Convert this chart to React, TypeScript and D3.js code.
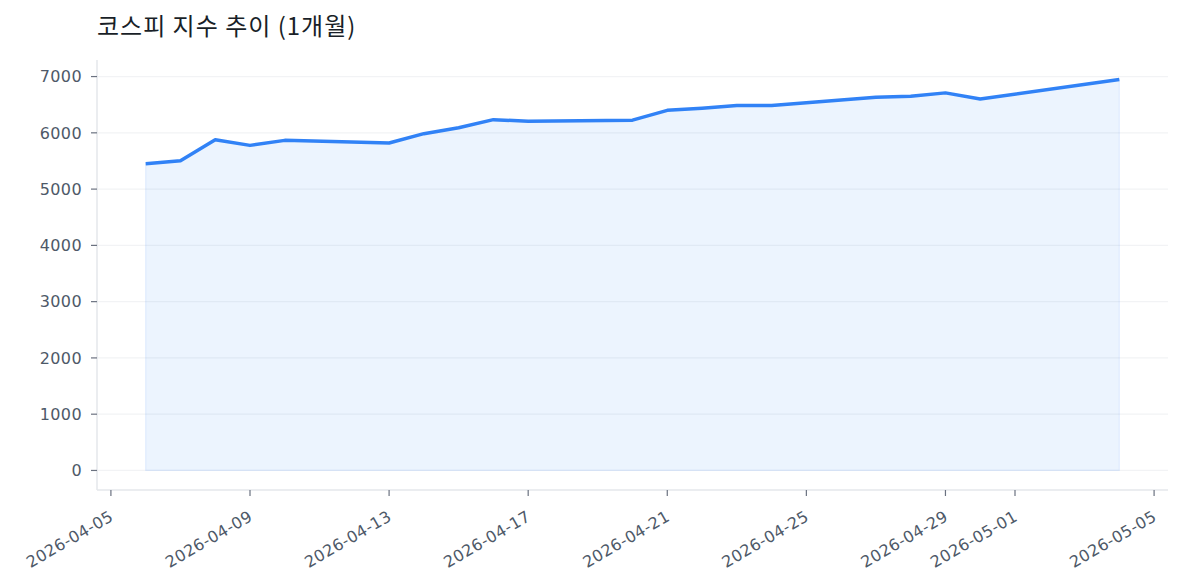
import React from "react";
import * as d3 from "d3";

const dates: string[] = [
  "2026-04-06", "2026-04-07", "2026-04-08", "2026-04-09", "2026-04-10",
  "2026-04-13", "2026-04-14", "2026-04-15", "2026-04-16", "2026-04-17",
  "2026-04-20", "2026-04-21", "2026-04-22", "2026-04-23", "2026-04-24",
  "2026-04-27", "2026-04-28", "2026-04-29", "2026-04-30", "2026-05-04",
];
const values: number[] = [
  5450, 5504, 5878, 5777, 5866,
  5819, 5985, 6090, 6234, 6205,
  6225, 6400, 6436, 6484, 6484,
  6632, 6650, 6710, 6603, 6947,
];
const xTickLabels: string[] = [
  "2026-04-05", "2026-04-09", "2026-04-13", "2026-04-17", "2026-04-21",
  "2026-04-25", "2026-04-29", "2026-05-01", "2026-05-05",
];
const yTicks: number[] = [0, 1000, 2000, 3000, 4000, 5000, 6000, 7000];
const title = "코스피 지수 추이 (1개월)";

const W = 1183;
const H = 585;
const TITLE_FONT = "'Noto Sans CJK KR', 'Noto Sans', sans-serif";
const TICK_FONT = "'DejaVu Sans', 'Noto Sans', sans-serif";

export default function App() {
  const parse = d3.utcParse("%Y-%m-%d");
  const data = dates.map((d, i) => ({ date: parse(d) as Date, value: values[i] }));
  const left = 97, right = 1168, top = 60, bottom = 490;

  const tMin = d3.min(data, (d) => +d.date)!;
  const tMax = d3.max(data, (d) => +d.date)!;
  const tPad = (tMax - tMin) * 0.05;
  const x = d3.scaleUtc().domain([new Date(tMin - tPad), new Date(tMax + tPad)]).range([left, right]);

  const vMin = Math.min(0, d3.min(values)!);
  const vMax = d3.max(values)!;
  const vPad = (vMax - vMin) * 0.05;
  const y = d3.scaleLinear().domain([vMin - vPad, vMax + vPad]).range([bottom, top]);

  const line = d3.line<{ date: Date; value: number }>().x((d) => x(d.date)).y((d) => y(d.value));
  const area = d3
    .area<{ date: Date; value: number }>()
    .x((d) => x(d.date))
    .y0(() => y(0))
    .y1((d) => y(d.value));

  const xTicks = xTickLabels.map((s) => ({ label: s, date: parse(s) as Date }));

  return (
    <svg width={W} height={H} style={{ position: "absolute", left: 0, top: 0, background: "#fff" }}>
      <text x={97} y={35} fontFamily={TITLE_FONT} fontSize={24} letterSpacing={1.0} fill="#191f28">
        {title}
      </text>
      {/* grid */}
      {yTicks.map((t) => (
        <line key={"g" + t} x1={left} x2={right} y1={y(t)} y2={y(t)} stroke="#f2f3f5" strokeWidth={1.2} />
      ))}
      {/* area */}
      <path d={area(data) || ""} fill="#3182f6" fillOpacity={0.09} stroke="#3182f6" strokeOpacity={0.1} strokeWidth={1.2} />
      <path d={line(data) || ""} fill="none" stroke="#3182f6" strokeWidth={3.5} strokeLinejoin="round" />
      {/* spines */}
      <line x1={left} x2={left} y1={top} y2={bottom} stroke="#e5e7eb" strokeWidth={1.5} />
      <line x1={left} x2={right} y1={bottom} y2={bottom} stroke="#e5e7eb" strokeWidth={1.5} />
      {/* y ticks */}
      {yTicks.map((t) => (
        <g key={"y" + t}>
          <line x1={left - 6} x2={left} y1={y(t)} y2={y(t)} stroke="#6b7280" strokeWidth={1.2} />
          <text x={left - 15} y={y(t)} dy="0.36em" textAnchor="end" fontFamily={TICK_FONT} fontSize={16} letterSpacing={0.4} fill="#4e5968">
            {t}
          </text>
        </g>
      ))}
      {/* x ticks */}
      {xTicks.map((t) => {
        const px = x(t.date);
        return (
          <g key={t.label}>
            <line x1={px} x2={px} y1={bottom} y2={bottom + 6} stroke="#6b7280" strokeWidth={1.2} />
            <text
              transform={`translate(${px - 2},${bottom + 20}) rotate(-30)`}
              textAnchor="end"
              dy="0.7em"
              fontFamily={TICK_FONT}
              fontSize={16}
              letterSpacing={0.4}
              fill="#4e5968"
            >
              {t.label}
            </text>
          </g>
        );
      })}
    </svg>
  );
}
